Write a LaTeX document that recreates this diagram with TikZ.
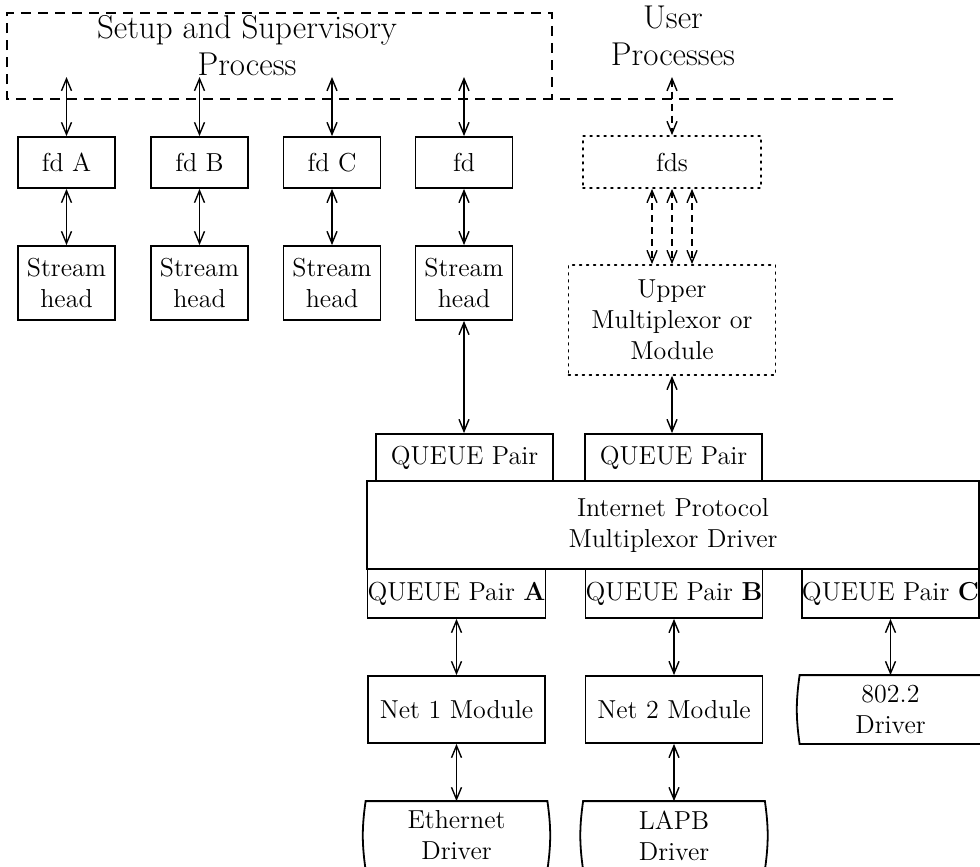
\documentclass[tikz,border=0pt]{standalone}
\usetikzlibrary{arrows.meta}
\begin{document}
\begin{tikzpicture}[x=0.5pt, y=-0.5pt,
    box/.style={draw, line width=0.9pt, align=center, inner sep=0pt, font=\fontsize{13}{15.5}\selectfont},
    dotbox/.style={box, dash pattern=on 0.9pt off 2.6pt, line cap=round},
    drv/.style={box, draw=none, minimum width=90pt, minimum height=33.5pt},
    bigtext/.style={align=center, inner sep=0pt, font=\fontsize{16.5}{18.5}\selectfont},
    link/.style={<->, line width=0.7pt, >={Straight Barb[length=6pt,width=5pt]}},
    dlink/.style={link, dash pattern=on 3.5pt off 2.5pt},
    frame/.style={line width=0.9pt, dash pattern=on 5pt off 3.5pt}]
    \useasboundingbox (0,0) rectangle (980,867);
    \draw[frame] (893,99) -- (7,99) -- (7,13) -- (552,13) -- (552,99);
    \node[bigtext] (setup) at (247,46) {Setup and Supervisory\\Process};
    \node[bigtext] (user) at (673,36) {User\\Processes};
    \foreach \n/\x/\lab in {A/66.5/fd A, B/199.5/fd B, C/332/fd C, D/464/fd} {
        \node[box, minimum width=48.5pt, minimum height=25.5pt] (fd\n) at (\x,162.5) {\lab};
        \node[box, minimum width=48.5pt, minimum height=37pt] (sh\n) at (\x,283) {Stream\\head};
        \coordinate (up\n) at (\x,77);
        \draw[link] (up\n) -- (fd\n);
        \draw[link] (fd\n) -- (sh\n);
    }
    \node[dotbox, minimum width=89pt, minimum height=26pt] (fds) at (672,162) {fds};
    \node[dotbox, minimum width=103.5pt, minimum height=55pt] (mux) at (672,320) {Upper\\Multiplexor or\\Module};
    \coordinate (upU) at (672,77);
    \draw[dlink] (upU) -- (fds);
    \foreach \d in {-10pt,0pt,10pt}
        \draw[dlink] ([xshift=\d]fds.south) -- ([xshift=\d]mux.north);
    \node[box, minimum width=88.5pt, minimum height=23.5pt] (qpL) at (464.5,457.5) {QUEUE Pair};
    \node[box, minimum width=88.5pt, minimum height=23.5pt] (qpR) at (673.5,457.5) {QUEUE Pair};
    \node[box, minimum width=306pt, minimum height=44pt] (ip) at (673,525) {Internet Protocol\\Multiplexor Driver};
    \foreach \n/\x in {A/456.5, B/674, C/890.5}
        \node[box, minimum width=88.5pt, minimum height=24.5pt] (qp\n) at (\x,593.5) {QUEUE Pair \textbf{\n}};
    \node[box, minimum width=88.5pt, minimum height=33.5pt] (net1) at (456.5,709.5) {Net 1 Module};
    \node[box, minimum width=88.5pt, minimum height=33.5pt] (net2) at (674,709.5) {Net 2 Module};
    \node[drv] (llc) at (890.5,709.5) {802.2\\Driver};
    \node[drv] (eth) at (456.5,835.5) {Ethernet\\Driver};
    \node[drv] (lapb) at (674,835.5) {LAPB\\Driver};
    \foreach \n in {llc,eth,lapb}
        \draw[line width=0.9pt] (\n.north west) to[bend right=8] (\n.south west)
            -- (\n.south east) to[bend right=8] (\n.north east) -- cycle;
    \draw[link] (shD.south) -- (shD.south |- qpL.north);
    \draw[link] (mux.south) -- (mux.south |- qpR.north);
    \draw[link] (qpA) -- (net1);
    \draw[link] (qpB) -- (net2);
    \draw[link] (qpC) -- (llc);
    \draw[link] (net1) -- (eth);
    \draw[link] (net2) -- (lapb);
\end{tikzpicture}
\end{document}
